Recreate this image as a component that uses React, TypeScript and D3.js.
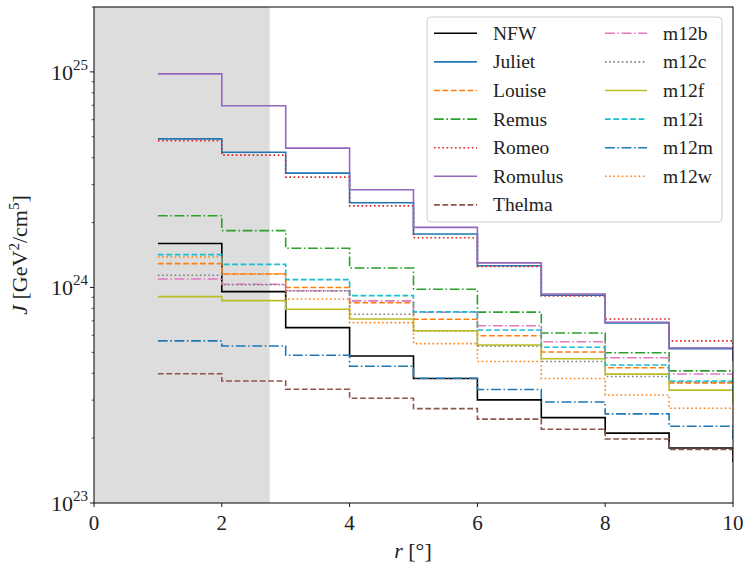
import React from "react";
import * as d3 from "d3";

const radii = [1, 2, 3, 4, 5, 6, 7, 8, 9, 10];

const nfw = [1.6e24, 9.56e23, 6.51e23, 4.81e23, 3.78e23, 3.01e23, 2.49e23, 2.11e23, 1.8e23, 1.55e23];
const juliet = [4.89e24, 4.24e24, 3.39e24, 2.47e24, 1.77e24, 1.26e24, 9.2e23, 6.85e23, 5.2e23, 4.55e23];
const louise = [1.29e24, 1.155e24, 1.0e24, 8.49e23, 7.12e23, 5.97e23, 5.02e23, 4.24e23, 3.61e23, 3.15e23];
const remus = [2.15e24, 1.835e24, 1.52e24, 1.23e24, 9.81e23, 7.68e23, 6.15e23, 4.98e23, 4.1e23, 3.6e23];
const romeo = [4.8e24, 4.11e24, 3.25e24, 2.39e24, 1.7e24, 1.25e24, 9.13e23, 7.14e23, 5.65e23, 4.9e23];
const romulus = [9.79e24, 6.96e24, 4.43e24, 2.84e24, 1.9e24, 1.3e24, 9.33e23, 6.9e23, 5.24e23, 4.6e23];
const thelma = [3.98e23, 3.68e23, 3.37e23, 3.06e23, 2.74e23, 2.45e23, 2.2e23, 1.98e23, 1.77e23, 1.55e23];
const m12b = [1.095e24, 1.035e24, 9.66e23, 8.66e23, 7.67e23, 6.64e23, 5.6e23, 4.72e23, 3.97e23, 3.45e23];
const m12c = [1.14e24, 1.03e24, 9.64e23, 7.51e23, 6.28e23, 5.34e23, 4.53e23, 3.86e23, 3.64e23, 3.15e23];
const m12f = [9.07e23, 8.69e23, 7.92e23, 7.14e23, 6.3e23, 5.41e23, 4.67e23, 3.96e23, 3.34e23, 2.88e23];
const m12i = [1.42e24, 1.28e24, 1.087e24, 9.16e23, 7.7e23, 6.35e23, 5.28e23, 4.37e23, 3.68e23, 3.2e23];
const m12m = [5.65e23, 5.35e23, 4.85e23, 4.31e23, 3.79e23, 3.36e23, 2.94e23, 2.59e23, 2.27e23, 1.98e23];
const m12w = [1.385e24, 1.155e24, 8.84e23, 6.87e23, 5.49e23, 4.53e23, 3.78e23, 3.17e23, 2.75e23, 2.4e23];

const seriesNames = ["NFW", "Juliet", "Louise", "Remus", "Romeo", "Romulus", "Thelma", "m12b", "m12c", "m12f", "m12i", "m12m", "m12w"];
const seriesValues = [nfw, juliet, louise, remus, romeo, romulus, thelma, m12b, m12c, m12f, m12i, m12m, m12w];
const seriesColors = ["#000000", "#1f77b4", "#ff7f0e", "#2ca02c", "#d62728", "#9467bd", "#8c564b", "#e377c2", "#7f7f7f", "#bcbd22", "#17becf", "#1f77b4", "#ff7f0e"];
const seriesStyles = ["solid", "solid", "dashed", "dashdot", "dotted", "solid", "dashed", "dashdot", "dotted", "solid", "dashed", "dashdot", "dotted"];

const shadedMax = 2.75;
const xTicks = [0, 2, 4, 6, 8, 10];
const yMajor = [23, 24, 25];

const dashMap: Record<string, string | undefined> = {
  solid: undefined,
  dashed: "5.8,2.6",
  dashdot: "9.8,2.6,1.6,2.6",
  dotted: "1.6,2.6",
};

const W = 746, H = 572;
const L = 94, R = 733, T = 7, B = 503;
const FONT = "'Liberation Serif', 'DejaVu Serif', serif";

export default function App() {
  const x = d3.scaleLinear().domain([0, 10]).range([L, R]);
  const y = d3.scaleLog().domain([1e23, 2e25]).range([B, T]);
  const line = d3.line<[number, number]>().x(d => x(d[0])).y(d => y(d[1])).curve(d3.curveStepAfter);

  const minor: number[] = [];
  for (const e of [23, 24]) for (let k = 2; k <= 9; k++) minor.push(k * Math.pow(10, e));
  minor.push(2e25);

  const legendRows = 7;
  const rowH = 28.6;
  const legTop = 33.3;

  return (
    <div style={{ position: "absolute", left: 0, top: 0 }}>
      <svg width={W} height={H} style={{ display: "block", background: "#fff" }}>
        <defs>
          <clipPath id="plot">
            <rect x={L} y={T} width={R - L} height={B - T} />
          </clipPath>
        </defs>
        <rect x={x(0)} y={T} width={x(shadedMax) - x(0)} height={B - T} fill="#dddddd" />
        <g clipPath="url(#plot)">
          {seriesValues.map((vals, i) => (
            <path
              key={seriesNames[i]}
              d={line(radii.map((r, j) => [r, vals[j]] as [number, number])) || ""}
              fill="none"
              stroke={seriesColors[i]}
              strokeWidth={1.6}
              strokeDasharray={dashMap[seriesStyles[i]]}
            />
          ))}
        </g>
        <rect x={L} y={T} width={R - L} height={B - T} fill="none" stroke="#000" strokeWidth={1} />
        {xTicks.map(t => (
          <g key={"xt" + t}>
            <line x1={x(t)} x2={x(t)} y1={B} y2={B + 4} stroke="#000" strokeWidth={0.9} />
            <text x={x(t)} y={530} textAnchor="middle" fontFamily={FONT} fontSize={21} fill="#222">{t}</text>
          </g>
        ))}
        {minor.map(v => (
          <line key={"ym" + v} x1={L - 2.3} x2={L} y1={y(v)} y2={y(v)} stroke="#000" strokeWidth={0.7} />
        ))}
        {yMajor.map(e => (
          <g key={"yt" + e}>
            <line x1={L - 4} x2={L} y1={y(Math.pow(10, e))} y2={y(Math.pow(10, e))} stroke="#000" strokeWidth={0.9} />
            <text x={88} y={y(Math.pow(10, e)) + 8} textAnchor="end" fontFamily={FONT} fontSize={22} fill="#222">
              10<tspan dy={-10} fontSize={15}>{e}</tspan>
            </text>
          </g>
        ))}
        <text
          transform={`translate(27,${(T + B) / 2}) rotate(-90)`}
          textAnchor="middle"
          fontFamily={FONT}
          fontSize={22}
          fill="#222"
        >
          <tspan fontStyle="italic">J</tspan> [GeV<tspan dy={-8} fontSize={15}>2</tspan><tspan dy={8}>/cm</tspan><tspan dy={-8} fontSize={15}>5</tspan><tspan dy={8}>]</tspan>
        </text>
        <text x={413} y={558} textAnchor="middle" fontFamily={FONT} fontSize={22} fill="#222">
          <tspan fontStyle="italic">r</tspan> [°]
        </text>
        <rect x={427} y={17} width={295} height={205} rx={4} fill="#fff" fillOpacity={0.8} stroke="#cccccc" strokeWidth={1} />
        {seriesNames.map((name, i) => {
          const col = Math.floor(i / legendRows);
          const row = i % legendRows;
          const ly = legTop + row * rowH;
          const lx0 = col === 0 ? 434 : 605;
          const lx1 = col === 0 ? 477 : 647;
          const tx = col === 0 ? 493 : 663;
          return (
            <g key={"lg" + name}>
              <line x1={lx0} x2={lx1} y1={ly} y2={ly} stroke={seriesColors[i]} strokeWidth={1.6} strokeDasharray={dashMap[seriesStyles[i]]} />
              <text x={tx} y={ly + 6.5} fontFamily={FONT} fontSize={19.5} fill="#222">{name}</text>
            </g>
          );
        })}
      </svg>
    </div>
  );
}
